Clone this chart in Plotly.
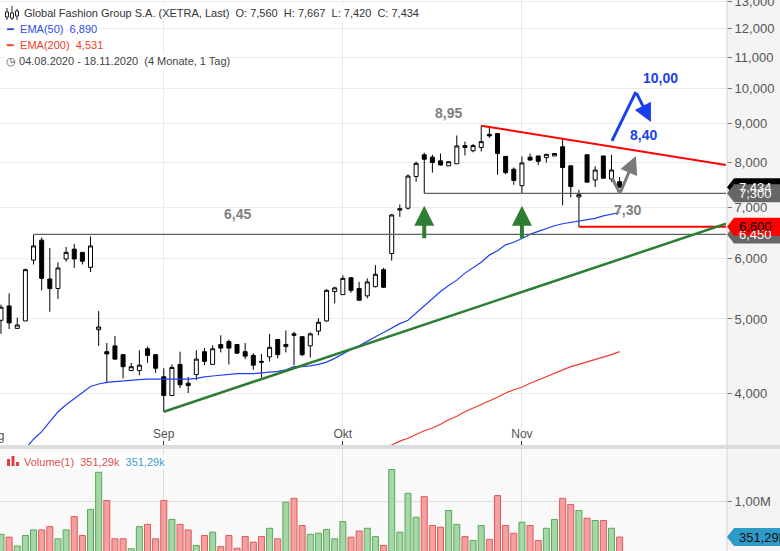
import math
import pandas as pd
import plotly.graph_objects as go

# ---------------- data ----------------
dates = pd.bdate_range("2020-08-04", "2020-11-18")
date_labels = [d.strftime("%d.%m.%Y") for d in dates]

open_ = [4.98, 5.20, 4.86, 4.97, 5.97, 6.34, 5.64, 5.48, 5.99, 6.17,
         6.11, 5.84, 4.84, 4.53, 4.61, 4.49, 4.28, 4.28, 4.57, 4.49,
         4.20, 3.97, 4.36, 4.12, 4.23, 4.53, 4.36, 4.63, 4.67, 4.63,
         4.53, 4.48, 4.40, 4.46, 4.70, 4.60, 4.78, 4.74, 4.61, 4.82,
         4.97, 5.43, 5.38, 5.66, 5.48, 5.36, 5.51, 5.80, 6.09, 6.94,
         6.98, 7.68, 8.20, 8.14, 8.05, 7.93, 7.98, 8.43, 8.30, 8.38,
         8.72, 8.74, 8.16, 7.85, 7.47, 8.14, 8.17, 8.13, 8.17, 8.40,
         7.93, 7.22, 8.20, 7.60, 8.17, 7.62, 7.56]
high = [5.22, 5.40, 5.02, 5.82, 6.44, 6.39, 6.19, 5.93, 6.21, 6.27,
        6.12, 6.41, 5.12, 4.65, 4.75, 4.50, 4.38, 4.55, 4.60, 4.49,
        4.31, 4.36, 4.53, 4.20, 4.55, 4.58, 4.62, 4.76, 4.70, 4.63,
        4.65, 4.51, 4.50, 4.78, 4.70, 4.83, 4.81, 4.74, 4.80, 5.01,
        5.47, 5.51, 5.70, 5.67, 5.59, 5.65, 5.88, 5.83, 6.86, 7.06,
        7.73, 8.03, 8.25, 8.20, 8.23, 8.03, 8.69, 8.53, 8.47, 8.95,
        8.91, 8.74, 8.16, 7.89, 8.16, 8.23, 8.17, 8.22, 8.24, 8.60,
        7.93, 7.38, 8.20, 7.92, 8.17, 8.20, 7.667]
low = [4.78, 4.85, 4.86, 4.97, 5.89, 5.45, 5.11, 5.31, 5.94, 5.83,
       5.89, 5.76, 4.61, 4.12, 4.42, 4.18, 4.28, 4.22, 4.38, 4.25,
       3.78, 3.97, 4.06, 4.00, 4.16, 4.35, 4.36, 4.52, 4.36, 4.50,
       4.43, 4.29, 4.19, 4.40, 4.44, 4.52, 4.35, 4.47, 4.45, 4.76,
       4.96, 5.24, 5.38, 5.41, 5.28, 5.32, 5.50, 5.49, 5.96, 6.80,
       6.95, 7.56, 7.30, 7.77, 7.94, 7.93, 7.98, 8.18, 8.26, 8.28,
       8.63, 7.72, 7.73, 7.49, 7.30, 8.05, 7.95, 8.01, 8.17, 7.04,
       7.21, 6.60, 7.55, 7.44, 7.64, 7.56, 7.42]
close = [5.18, 4.94, 4.91, 5.80, 6.23, 5.65, 5.48, 5.83, 6.11, 5.99,
         5.95, 6.23, 4.88, 4.50, 4.43, 4.33, 4.33, 4.35, 4.48, 4.31,
         3.97, 4.32, 4.10, 4.09, 4.43, 4.40, 4.57, 4.58, 4.58, 4.51,
         4.47, 4.35, 4.39, 4.59, 4.49, 4.63, 4.76, 4.49, 4.78, 4.95,
         5.45, 5.49, 5.65, 5.45, 5.29, 5.59, 5.72, 5.50, 6.84, 6.97,
         7.69, 7.99, 8.09, 8.01, 7.95, 8.03, 8.42, 8.38, 8.43, 8.53,
         8.68, 8.23, 7.77, 7.59, 8.00, 8.07, 8.04, 8.21, 8.23, 7.89,
         7.45, 7.27, 7.55, 7.83, 7.64, 7.83, 7.434]
volume_m = [0.40, 0.35, 0.19, 0.38, 0.48, 0.48, 0.54, 0.32, 0.48, 0.72,
            0.38, 0.85, 1.52, 1.01, 0.32, 0.32, 0.14, 0.54, 0.58, 0.32,
            1.01, 0.67, 0.58, 0.48, 0.20, 0.38, 0.44, 0.18, 0.38, 0.15,
            0.36, 0.26, 0.36, 0.51, 0.32, 0.98, 1.05, 0.56, 0.40, 0.42,
            0.49, 0.32, 0.63, 0.35, 0.46, 0.51, 0.36, 0.20, 1.57, 0.44,
            1.14, 0.71, 1.08, 0.56, 0.53, 0.83, 0.58, 0.36, 0.29, 0.56,
            0.31, 1.10, 0.56, 0.42, 0.62, 0.56, 0.29, 0.51, 0.67, 1.05,
            0.94, 0.83, 0.69, 0.65, 0.65, 0.51, 0.35129]
ema50 = [None, None, 3.27, 3.38, 3.48, 3.56, 3.67, 3.78, 3.86, 3.93,
         4.00, 4.08, 4.11, 4.13, 4.14, 4.15, 4.16, 4.165, 4.17, 4.17,
         4.17, 4.17, 4.17, 4.17, 4.18, 4.20, 4.21, 4.22, 4.23, 4.24,
         4.24, 4.24, 4.25, 4.26, 4.27, 4.29, 4.33, 4.33, 4.34, 4.36,
         4.39, 4.44, 4.50, 4.56, 4.61, 4.68, 4.74, 4.80, 4.87, 4.93,
         4.98, 5.09, 5.20, 5.32, 5.43, 5.53, 5.62, 5.74, 5.84, 5.93,
         6.06, 6.14, 6.25, 6.30, 6.37, 6.45, 6.51, 6.57, 6.62, 6.66,
         6.69, 6.71, 6.74, 6.77, 6.82, 6.86, 6.89]
ema200 = [None] * 47 + [3.39, 3.42, 3.46, 3.49, 3.53, 3.57, 3.60, 3.64,
                        3.69, 3.73, 3.78, 3.82, 3.86, 3.91, 3.95, 4.00,
                        4.04, 4.07, 4.12, 4.16, 4.20, 4.24, 4.29, 4.33,
                        4.36, 4.39, 4.42, 4.45, 4.49, 4.531]

price_ticks = [4, 5, 6, 7, 8, 9, 10, 11, 12, 13]
month_names = {8: "Aug", 9: "Sep", 10: "Okt", 11: "Nov"}

# horizontal levels (value, start index)
level_645 = (6.45, 4)
level_730 = (7.30, 52)
level_660 = (6.60, 71)
support_start = (20, 3.78)
support_end_value = 6.66
resist_start = (59, 8.95)
resist_end_value = 7.95
target_up = 10.00
target_mid = 8.40

# ---------------- geometry / helpers ----------------
N = len(dates)
idx = list(range(N))
X0, X1 = -0.12, 89.07
Y_LOG = [math.log10(3.42), math.log10(13.07)]
MAIN_DOM = [1 - 445 / 551, 1.0]
VOL_DOM = [0.0, 1 - 449 / 551]
VOL_RANGE = [0.10e6, 1.94e6]
PLOT_W, FIG_H = 726, 551

def de(v, d=3):
    return f"{v:,.{d}f}".replace(",", "X").replace(".", ",").replace("X", ".")

def py_main(v):
    return MAIN_DOM[0] + (math.log10(v) - Y_LOG[0]) / (Y_LOG[1] - Y_LOG[0]) * (MAIN_DOM[1] - MAIN_DOM[0])

def py_vol(v):
    return VOL_DOM[0] + (v - VOL_RANGE[0]) / (VOL_RANGE[1] - VOL_RANGE[0]) * (VOL_DOM[1] - VOL_DOM[0])

tick_idx, tick_txt, prev = [], [], None
for i, d in enumerate(dates):
    if d.month != prev:
        tick_idx.append(i)
        tick_txt.append(month_names[d.month])
        prev = d.month

FONT = "Liberation Sans, Arial, sans-serif"
fig = go.Figure()

# ---------------- traces ----------------
fig.add_trace(go.Candlestick(
    x=idx, open=open_, high=high, low=low, close=close, text=date_labels,
    increasing=dict(line=dict(color="#000000", width=1), fillcolor="#ffffff"),
    decreasing=dict(line=dict(color="#000000", width=1), fillcolor="#000000"),
    whiskerwidth=0, showlegend=False, xaxis="x", yaxis="y"))

fig.add_trace(go.Scatter(x=idx, y=ema50, mode="lines", line=dict(color="#2040f0", width=1.2),
                         showlegend=False, hoverinfo="skip", xaxis="x", yaxis="y"))
fig.add_trace(go.Scatter(x=idx, y=ema200, mode="lines", line=dict(color="#f03a2a", width=1.2),
                         showlegend=False, hoverinfo="skip", xaxis="x", yaxis="y"))

def seg(xs, ys, color, width):
    fig.add_trace(go.Scatter(x=xs, y=ys, mode="lines", line=dict(color=color, width=width),
                             showlegend=False, hoverinfo="skip", xaxis="x", yaxis="y"))

seg([level_645[1], X1], [level_645[0]] * 2, "#606060", 1.2)
seg([level_730[1], X1], [level_730[0]] * 2, "#606060", 1.2)
seg([level_660[1], X1], [level_660[0]] * 2, "#ff0000", 2)
seg([resist_start[0], X1], [resist_start[1], resist_end_value], "#ff0000", 2)
seg([support_start[0], X1], [support_start[1], support_end_value], "#2e7d32", 2.5)

# projection drawings
seg([75.06, 78.0], [8.55, 9.91], "#1a3ff0", 3)
seg([75.06, 76.04], [7.65, 7.30], "#7a7a7a", 3)

vol_colors = ["#a5d6a5" if c >= o else "#f4a0a0" for o, c in zip(open_, close)]
vol_lines = ["#5aa95a" if c >= o else "#e05a5a" for o, c in zip(open_, close)]
fig.add_trace(go.Bar(x=idx, y=[v * 1e6 for v in volume_m], marker=dict(color=vol_colors,
                     line=dict(color=vol_lines, width=1)), showlegend=False,
                     xaxis="x2", yaxis="y2"))

# ---------------- shapes ----------------
shapes = []
shapes.append(dict(type="rect", xref="paper", yref="paper", x0=727 / PLOT_W, x1=1.1, y0=0, y1=1,
                   fillcolor="#f4f4f4", line=dict(width=0), layer="below"))
shapes.append(dict(type="rect", xref="paper", yref="paper", x0=0, x1=727 / PLOT_W, y0=0, y1=VOL_DOM[1],
                   fillcolor="#f9f9f9", line=dict(width=0), layer="below"))
shapes.append(dict(type="rect", xref="paper", yref="paper", x0=0, x1=1.1, y0=VOL_DOM[1], y1=MAIN_DOM[0],
                   fillcolor="#dcdcdc", line=dict(width=0), layer="above"))
shapes.append(dict(type="line", xref="paper", yref="paper", x0=727 / PLOT_W, x1=727 / PLOT_W, y0=0, y1=1,
                   line=dict(color="#d4d4d4", width=1), layer="above"))

def tag(yp, color, text, tcolor):
    h = 9 / FIG_H
    xl, xr, xt = 734 / PLOT_W, 782 / PLOT_W, 727 / PLOT_W
    shapes.append(dict(type="path", xref="paper", yref="paper",
                       path=f"M {xt},{yp} L {xl},{yp + h} L {xr},{yp + h} L {xr},{yp - h} L {xl},{yp - h} Z",
                       fillcolor=color, line=dict(width=0), layer="above"))
    return dict(xref="paper", yref="paper", x=737 / PLOT_W, y=yp, xanchor="left", yanchor="middle",
                text=text, showarrow=False, font=dict(size=13, color=tcolor, family=FONT))

annotations = []
annotations.append(tag(py_main(close[-1]), "#000000", de(close[-1]), "#ffffff"))
annotations.append(tag(py_main(level_730[0]), "#666666", de(level_730[0]), "#ffffff"))
annotations.append(tag(py_main(level_645[0]), "#666666", de(level_645[0]), "#ffffff"))
annotations.append(tag(py_main(level_660[0]), "#ff0000", de(level_660[0]), "#000000"))
annotations.append(tag(py_vol(volume_m[-1] * 1e6), "#2d9ac8", de(volume_m[-1] * 1000, 2) + "k", "#111111"))

def px(x):
    return x / PLOT_W

def pyy(y):
    return 1 - y / FIG_H

# header icons
for cx, top, bot, b0, b1 in [(7, 8, 20, 12, 17), (12, 6, 20, 13, 18), (17, 9, 20, 11, 16)]:
    shapes.append(dict(type="line", xref="paper", yref="paper", x0=px(cx), x1=px(cx), y0=pyy(top), y1=pyy(bot),
                       line=dict(color="#222", width=1)))
    shapes.append(dict(type="rect", xref="paper", yref="paper", x0=px(cx - 1.5), x1=px(cx + 1.5),
                       y0=pyy(b0), y1=pyy(b1), fillcolor="#ffffff", line=dict(color="#222", width=1)))
for x0_, top in [(7, 459), (11.5, 456), (16, 462)]:
    shapes.append(dict(type="rect", xref="paper", yref="paper", x0=px(x0_), x1=px(x0_ + 3),
                       y0=pyy(466), y1=pyy(top), fillcolor="#e04040", line=dict(width=0)))
fig.update_layout(shapes=shapes)

def hdr(x, y, text, color="#333333", size=11, bg="rgba(255,255,255,0.9)"):
    annotations.append(dict(xref="paper", yref="paper", x=px(x), y=pyy(y), xanchor="left", yanchor="middle",
                            text=text, showarrow=False, bgcolor=bg, borderpad=1,
                            font=dict(size=size, color=color, family=FONT)))

sp = "\u00a0\u00a0"
hdr(22, 13, "Global Fashion Group S.A. (XETRA, Last)" + sp + f"O: {de(open_[-1])}" + sp +
    f"H: {de(high[-1])}" + sp + f"L: {de(low[-1])}" + sp + f"C: {de(close[-1])}")
hdr(4, 29, f"\u2501\u00a0\u00a0EMA(50)\u00a0\u00a0{de(ema50[-1])}", "#2a4de8")
hdr(4, 45, f"\u2501\u00a0\u00a0EMA(200)\u00a0\u00a0{de(ema200[-1])}", "#f03a2a")
hdr(4, 61, f"\u25f7\u00a0{date_labels[0]} - {date_labels[-1]}\u00a0\u00a0(4 Monate, 1 Tag)", "#444444")
hdr(22, 462, f"Volume(1)\u00a0\u00a0{de(volume_m[-1] * 1000, 2)}k\u00a0\u00a0<span style='color:#3aa0d0'>{de(volume_m[-1] * 1000, 2)}k</span>",
    "#e05050", bg="rgba(255,255,255,0.8)")

# partially visible "Aug" month label at the left edge
annotations.append(dict(xref="paper", yref="paper", x=px(-7), y=pyy(436), xanchor="center", yanchor="middle",
                        text=month_names[8], showarrow=False, font=dict(size=12, color="#555", family=FONT)))

# big labels
def big(xi, yv, text, color):
    annotations.append(dict(xref="x", yref="y", x=xi, y=math.log10(yv), text=f"<b>{text}</b>",
                            showarrow=False, font=dict(size=14, color=color, family=FONT)))

big(55.0, 9.30, de(resist_start[1], 2), "#808080")
big(29.0, 6.86, de(level_645[0], 2), "#808080")
big(77.0, 6.94, de(level_730[0], 2), "#808080")
big(81.0, 10.34, de(target_up, 2), "#1a3ff0")
big(78.9, 8.70, de(target_mid, 2), "#1a3ff0")

# arrows
for xi in [52, 64]:
    annotations.append(dict(xref="x", yref="y", x=xi, y=math.log10(7.03), ax=0, ay=34, showarrow=True,
                            arrowhead=2, arrowsize=1, arrowwidth=4, arrowcolor="#2e7d32", text=""))
annotations.append(dict(xref="x", yref="y", axref="x", ayref="y", x=79.85, y=math.log10(9.05),
                        ax=78.0, ay=math.log10(9.91), showarrow=True, arrowhead=2, arrowsize=1.2,
                        arrowwidth=3, arrowcolor="#1a3ff0", text=""))
annotations.append(dict(xref="x", yref="y", axref="x", ayref="y", x=78.0, y=math.log10(8.17),
                        ax=76.04, ay=math.log10(7.30), showarrow=True, arrowhead=2, arrowsize=1.2,
                        arrowwidth=3, arrowcolor="#7a7a7a", text=""))

fig.update_layout(
    annotations=annotations,
    width=780, height=551,
    margin=dict(l=0, r=54, t=0, b=0, autoexpand=False),
    paper_bgcolor="#ffffff", plot_bgcolor="rgba(0,0,0,0)",
    separators=",.",
    font=dict(family=FONT, size=12, color="#444"),
    bargap=0.26,
    showlegend=False,
    hovermode=False,
    xaxis=dict(domain=[0, 1], anchor="y", range=[X0, X1], tickvals=tick_idx, ticktext=tick_txt,
               ticklabelposition="inside", ticks="inside", ticklen=4, tickcolor="#333", automargin=False,
               tickfont=dict(size=12, color="#555"), showgrid=True, gridcolor="#ebebeb",
               zeroline=False, showline=False, rangeslider=dict(visible=False)),
    yaxis=dict(domain=MAIN_DOM, anchor="x", type="log", side="right", range=Y_LOG,
               tickvals=price_ticks, tickformat=".3f", ticks="outside", ticklen=5, tickcolor="#777",
               ticklabeloverflow="allow", automargin=False,
               tickfont=dict(size=13, color="#555"), gridcolor="#ebebeb", zeroline=False, showline=False),
    xaxis2=dict(domain=[0, 1], anchor="y2", range=[X0, X1], tickvals=tick_idx, showticklabels=False,
                showgrid=True, gridcolor="#dddddd", zeroline=False, ticks="", automargin=False),
    yaxis2=dict(domain=VOL_DOM, anchor="x2", side="right", range=VOL_RANGE, tickvals=[1e6],
                ticktext=["1,00M"], ticks="outside", ticklen=5, tickcolor="#777",
                ticklabeloverflow="allow", automargin=False,
                tickfont=dict(size=13, color="#555"), gridcolor="#dddddd", zeroline=False),
)

fig.write_html("out.html", config={"displayModeBar": False},
               post_script="document.body.style.margin='0';document.body.style.overflow='hidden';")
